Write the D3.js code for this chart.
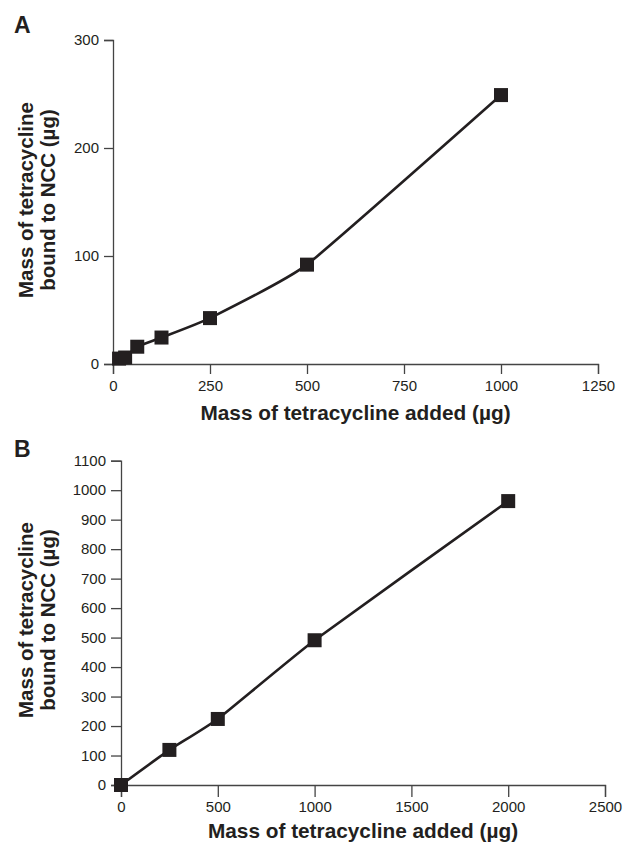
<!DOCTYPE html>
<html><head><meta charset="utf-8">
<script src="https://cdn.jsdelivr.net/npm/d3@7"></script>
<style>
body{margin:0;background:#fff;}
svg{display:block;font-family:"Liberation Sans",Arial,sans-serif;}
</style></head>
<body>
<svg id="c" width="624" height="842"></svg>
<script>
// Panel A data
const addedA = [15.6, 31.25, 62.5, 125, 250, 500, 1000];
const boundA = [5, 6, 16, 24.5, 42.5, 92, 249];
const xTicksA = [0, 250, 500, 750, 1000, 1250];
const yTicksA = [0, 100, 200, 300];
// Panel B data
const addedB = [0, 250, 500, 1000, 2000];
const boundB = [0, 119, 224, 491, 963];
const xTicksB = [0, 500, 1000, 1500, 2000, 2500];
const yTicksB = [0, 100, 200, 300, 400, 500, 600, 700, 800, 900, 1000, 1100];

const xLabel = "Mass of tetracycline added (µg)";
const yLabel1 = "Mass of tetracycline";
const yLabel2 = "bound to NCC (µg)";

const ink = "#231f20";
const svg = d3.select("#c");

function panel(cfg) {
  const x = d3.scaleLinear().domain(cfg.xDom).range(cfg.xRange);
  const y = d3.scaleLinear().domain(cfg.yDom).range(cfg.yRange);
  const g = svg.append("g");

  const xa = g.append("g").attr("transform", `translate(0,${cfg.yRange[0]})`)
    .call(d3.axisBottom(x).tickValues(cfg.xTicks).tickSizeOuter(0).tickSize(cfg.xTickLen).tickPadding(cfg.xPad).tickFormat(d3.format("d")));
  const ya = g.append("g").attr("transform", `translate(${cfg.xRange[0]},0)`)
    .call(d3.axisLeft(y).tickValues(cfg.yTicks).tickSizeOuter(0).tickSize(cfg.yTickLen).tickPadding(5).tickFormat(d3.format("d")));
  [xa, ya].forEach(a => {
    a.select(".domain").attr("stroke", "#444").attr("stroke-width", 1.3);
    a.selectAll(".tick line").attr("stroke", "#444").attr("stroke-width", 1.3);
    a.selectAll(".tick text").attr("fill", ink).style("font-size", "15px").style("font-family", '"Liberation Sans",Arial,sans-serif');
  });

  const pts = cfg.xs.map((v, i) => [v, cfg.ys[i]]);
  const line = d3.line().x(d => x(d[0])).y(d => y(d[1])).curve(d3.curveCardinal.tension(0.6));
  g.append("path").datum(pts).attr("d", line).attr("fill", "none")
    .attr("stroke", ink).attr("stroke-width", 2.6);

  const s = 14;
  g.selectAll("rect.pt").data(pts).join("rect").attr("class", "pt")
    .attr("x", d => x(d[0]) - s / 2).attr("y", d => y(d[1]) - s / 2)
    .attr("width", s).attr("height", s).attr("fill", ink);

  // Labels
  g.append("text").attr("x", cfg.letterX).attr("y", cfg.letterY)
    .text(cfg.letter).attr("fill", ink).style("font-size", "23px").style("font-weight", "bold");

  g.append("text").attr("x", (cfg.xRange[0] + cfg.xRange[1]) / 2).attr("y", cfg.xLabelY)
    .attr("text-anchor", "middle").text(xLabel).attr("fill", ink)
    .style("font-size", "20.8px").style("font-weight", "bold");

  const yl = g.append("text").attr("transform", `translate(0,${cfg.yLabelC}) rotate(-90)`)
    .attr("text-anchor", "middle").attr("fill", ink)
    .style("font-size", "20.5px").style("font-weight", "bold");
  yl.append("tspan").attr("x", 0).attr("y", 33).text(yLabel1);
  yl.append("tspan").attr("x", 0).attr("y", 55).text(yLabel2);
}

panel({
  xs: addedA, ys: boundA, xTicks: xTicksA, yTicks: yTicksA,
  xDom: [0, 1250], yDom: [0, 300], xRange: [113, 598], yRange: [364, 40],
  xTickLen: 10, yTickLen: 9, xPad: 6, letter: "A", letterX: 14, letterY: 33,
  xLabelY: 420, yLabelC: 200
});
panel({
  xs: addedB, ys: boundB, xTicks: xTicksB, yTicks: yTicksB,
  xDom: [0, 2500], yDom: [0, 1100], xRange: [121, 605], yRange: [785, 460.7],
  xTickLen: 12, yTickLen: 10, xPad: 4, letter: "B", letterX: 14, letterY: 457,
  xLabelY: 838, yLabelC: 620
});
</script>
</body></html>
